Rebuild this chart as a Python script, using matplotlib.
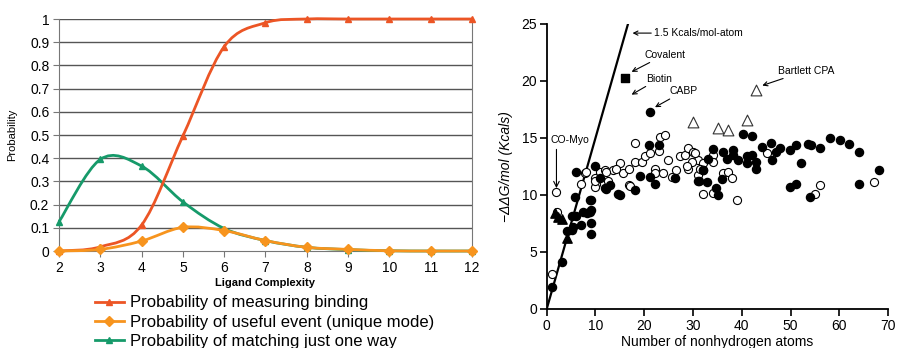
import matplotlib
matplotlib.use('Agg')
import matplotlib.pyplot as plt
from matplotlib.path import Path
from matplotlib.patches import PathPatch
from matplotlib.lines import Line2D

plt.rcParams['font.family'] = ['Liberation Sans', 'DejaVu Sans']

# left panel: probability vs ligand complexity
complexity = [2, 3, 4, 5, 6, 7, 8, 9, 10, 11, 12]
p_binding = [0.0, 0.018, 0.112, 0.496, 0.881, 0.984, 1.0, 1.0, 1.0, 1.0, 1.0]
p_useful = [0.0, 0.007, 0.043, 0.102, 0.088, 0.045, 0.016, 0.007, 0.001, 0.0, 0.0]
p_oneway = [0.126, 0.395, 0.366, 0.212, 0.097, 0.045, 0.016, 0.006, 0.001, 0.0, 0.0]
legend_labels = ['Probability of measuring binding',
                 'Probability of useful event (unique mode)',
                 'Probability of matching just one way']

# right panel: binding energy vs heavy atoms
filled_x = [1.0, 3.1, 4.2, 5.1, 5.3, 5.1, 6.0, 5.9, 7.0, 7.5, 8.2, 8.9, 9.1, 9.1, 9.1, 9.1,
            6.1, 9.9, 11.95, 13.0, 15.0, 18.1, 19.1, 21.2, 22.2, 26.3, 31.1, 32.1, 8.9,
            21.0, 23.1, 21.2, 34.1, 36.1, 38.1, 38.2, 36.9, 39.3, 41.0, 42.0, 41.1, 42.9,
            43.0, 44.1, 45.9, 46.1, 47.0, 47.8, 49.9, 51.1, 52.1, 53.6, 49.9, 51.1, 33.1,
            32.1, 31.3, 34.8, 35.2, 40.2, 42.0, 58.1, 60.1, 62.0, 64.1, 54.1, 56.0, 68.1,
            64.1, 54.0, 32.8, 35.9, 10.9, 14.7, 12.2]
filled_y = [1.9, 4.15, 6.8, 6.9, 7.2, 8.2, 8.2, 9.85, 7.4, 8.5, 8.45, 8.5, 9.6, 8.7, 7.5, 6.6,
            12.05, 12.5, 10.6, 10.9, 10.0, 10.4, 11.7, 11.6, 11.0, 11.5, 11.2, 12.2, 9.6,
            14.4, 14.4, 17.3, 14.0, 13.8, 13.95, 13.5, 13.2, 13.1, 13.4, 13.5, 12.8, 12.9,
            12.3, 14.2, 14.6, 13.1, 13.8, 14.1, 13.95, 14.4, 12.8, 14.5, 10.7, 11.0, 13.2,
            12.2, 11.2, 10.6, 10.0, 15.35, 15.2, 15.0, 14.8, 14.5, 13.8, 14.4, 14.15, 12.2,
            11.0, 9.85, 11.1, 11.4, 11.5, 10.06, 10.5]
open_x = [1.1, 2.2, 2.0, 7.0, 7.85, 10.2, 9.9, 10.0, 8.05, 10.9, 11.9, 13.6, 15.0, 15.6,
          16.9, 18.1, 19.5, 20.1, 21.2, 22.2, 22.2, 23.9, 24.9, 25.6, 26.6, 27.3, 28.3,
          29.0, 30.0, 31.1, 29.0, 31.1, 32.1, 18.1, 23.2, 24.3, 23.1, 9.9, 12.6, 16.9,
          17.1, 30.4, 29.7, 32.1, 34.1, 34.1, 45.1, 36.2, 37.2, 37.9, 34.1, 39.1, 56.1,
          55.1, 67.1, 14.3, 12.2, 28.7, 31.4]
open_y = [3.1, 8.5, 10.3, 10.96, 11.9, 11.0, 11.5, 10.7, 12.0, 12.0, 12.2, 12.2, 12.8, 11.9,
          12.25, 12.9, 12.9, 13.4, 13.65, 12.3, 11.9, 11.9, 13.1, 11.6, 12.2, 13.4, 13.5,
          14.1, 13.8, 13.1, 12.3, 11.75, 10.1, 14.6, 15.1, 15.3, 13.9, 11.2, 11.2, 10.9,
          10.8, 13.7, 12.9, 12.8, 13.5, 12.9, 13.7, 11.9, 12.05, 11.5, 10.2, 9.6, 10.9,
          10.1, 11.1, 12.3, 12.05, 12.5, 12.3]
tri_filled_x = [1.7, 2.4, 3.1, 4.1]
tri_filled_y = [8.4, 8.1, 7.9, 6.2]
tri_open_x = [30.0, 35.2, 37.2, 41.0, 43.0]
tri_open_y = [16.4, 15.85, 15.7, 16.6, 19.2]
square_x = [16.1]
square_y = [20.3]
slope = 1.5  # kcal/mol per atom


def smooth_path(xs, ys):
    # Excel-like smoothed line (Catmull-Rom as cubic Bezier)
    pts = list(zip(xs, ys))
    verts = [pts[0]]
    codes = [Path.MOVETO]
    n = len(pts)
    for i in range(n - 1):
        p0 = pts[i - 1] if i > 0 else pts[i]
        p1 = pts[i]
        p2 = pts[i + 1]
        p3 = pts[i + 2] if i + 2 < n else pts[i + 1]
        c1 = (p1[0] + (p2[0] - p0[0]) / 6, p1[1] + (p2[1] - p0[1]) / 6)
        c2 = (p2[0] - (p3[0] - p1[0]) / 6, p2[1] - (p3[1] - p1[1]) / 6)
        verts += [c1, c2, p2]
        codes += [Path.CURVE4] * 3
    return Path(verts, codes)


fig = plt.figure(figsize=(8.98, 3.48), dpi=100)

# ---- left panel
ax1 = fig.add_axes([0.0657, 0.2787, 0.4599, 0.6667])
red = '#EC5525'
orange = '#F7941E'
green = '#169A6A'

for yv in [0.1, 0.2, 0.3, 0.4, 0.5, 0.6, 0.7, 0.8, 0.9, 1.0]:
    ax1.axhline(yv, color='#555555', lw=1.0, zorder=1)

series = [(p_oneway, green, '^', 4), (p_binding, red, '^', 4), (p_useful, orange, 'D', 5)]
z = 3
for vals, col, mk, ms in series:
    ax1.add_patch(PathPatch(smooth_path(complexity, vals), fill=False, edgecolor=col,
                            lw=2.0, zorder=z, clip_on=False))
    ax1.plot(complexity, vals, ls='none', marker=mk, ms=ms, color=col, zorder=z + 0.5,
             clip_on=False)
    z += 1

ax1.set_xlim(2, 12)
ax1.set_ylim(0, 1)
ax1.set_xticks(complexity)
ax1.set_yticks([0, 0.1, 0.2, 0.3, 0.4, 0.5, 0.6, 0.7, 0.8, 0.9, 1])
ax1.set_yticklabels(['0', '0.1', '0.2', '0.3', '0.4', '0.5', '0.6', '0.7', '0.8', '0.9', '1'])
ax1.tick_params(axis='both', labelsize=10, color='#777777', length=4, pad=3)
ax1.spines['top'].set_visible(False)
for s in ['left', 'right', 'bottom']:
    ax1.spines[s].set_color('#777777')
ax1.set_xlabel('Ligand Complexity', fontsize=8, fontweight='bold', labelpad=2)
ax1.set_ylabel('Probability', fontsize=8, labelpad=9)

handles = [Line2D([], [], color=red, marker='^', ms=4, lw=2),
           Line2D([], [], color=orange, marker='D', ms=5, lw=2),
           Line2D([], [], color=green, marker='^', ms=4, lw=2)]
fig.legend(handles, legend_labels, loc='upper left', bbox_to_anchor=(0.106, 0.151),
           frameon=False, fontsize=12, handlelength=1.7, handletextpad=0.4,
           labelspacing=0.26, borderpad=0, borderaxespad=0)

# ---- right panel
ax2 = fig.add_axes([0.6088, 0.1121, 0.3802, 0.8190])
ax2.plot([0, 25 / slope], [0, 25], color='black', lw=1.6, zorder=2)
ax2.scatter(open_x, open_y, s=34, facecolors='white', edgecolors='black', linewidths=0.8,
            zorder=3, clip_on=False)
ax2.scatter(filled_x, filled_y, s=34, color='black', zorder=4, clip_on=False)
ax2.scatter(tri_filled_x, tri_filled_y, s=45, marker='^', color='black', zorder=4)
ax2.scatter(tri_open_x, tri_open_y, s=60, marker='^', facecolors='white',
            edgecolors='#333333', linewidths=0.8, zorder=4)
ax2.scatter(square_x, square_y, s=30, marker='s', color='black', zorder=4)

ax2.set_xlim(0, 70)
ax2.set_ylim(0, 25)
ax2.set_xticks(range(0, 71, 10))
ax2.set_yticks(range(0, 26, 5))
ax2.spines['top'].set_visible(False)
ax2.spines['right'].set_visible(False)
ax2.spines['left'].set_linewidth(1.3)
ax2.spines['bottom'].set_linewidth(1.3)
ax2.tick_params(axis='both', labelsize=10, length=5, width=1.2, direction='out', pad=2)
ax2.set_xlabel('Number of nonhydrogen atoms', fontsize=10, labelpad=2)
ax2.set_ylabel('\u2212\u0394\u0394G/mol (Kcals)', fontsize=10, style='italic', labelpad=6)

arrow = dict(arrowstyle='->', color='black', lw=0.8, shrinkA=0, shrinkB=0)
ann = [('1.5 Kcals/mol-atom', (17.6, 24.2), (22.0, 24.2)),
       ('Covalent', (17.4, 20.8), (20.0, 22.3)),
       ('Biotin', (17.4, 18.8), (20.4, 20.2)),
       ('CABP', (22.2, 17.7), (25.2, 19.1)),
       ('Bartlett CPA', (44.2, 19.6), (47.4, 20.9))]
for txt, xy, xyt in ann:
    ax2.annotate(txt, xy=xy, xytext=xyt, fontsize=7.5, va='center', ha='left',
                 arrowprops=arrow)
ax2.text(0.8, 14.8, 'CO-Myo', fontsize=7.5, ha='left', va='center')
ax2.annotate('', xy=(2.0, 10.6), xytext=(2.0, 14.0),
             arrowprops=dict(arrowstyle='->', color='black', lw=0.8, shrinkA=0, shrinkB=0))

fig.savefig('out.png', dpi=100)
